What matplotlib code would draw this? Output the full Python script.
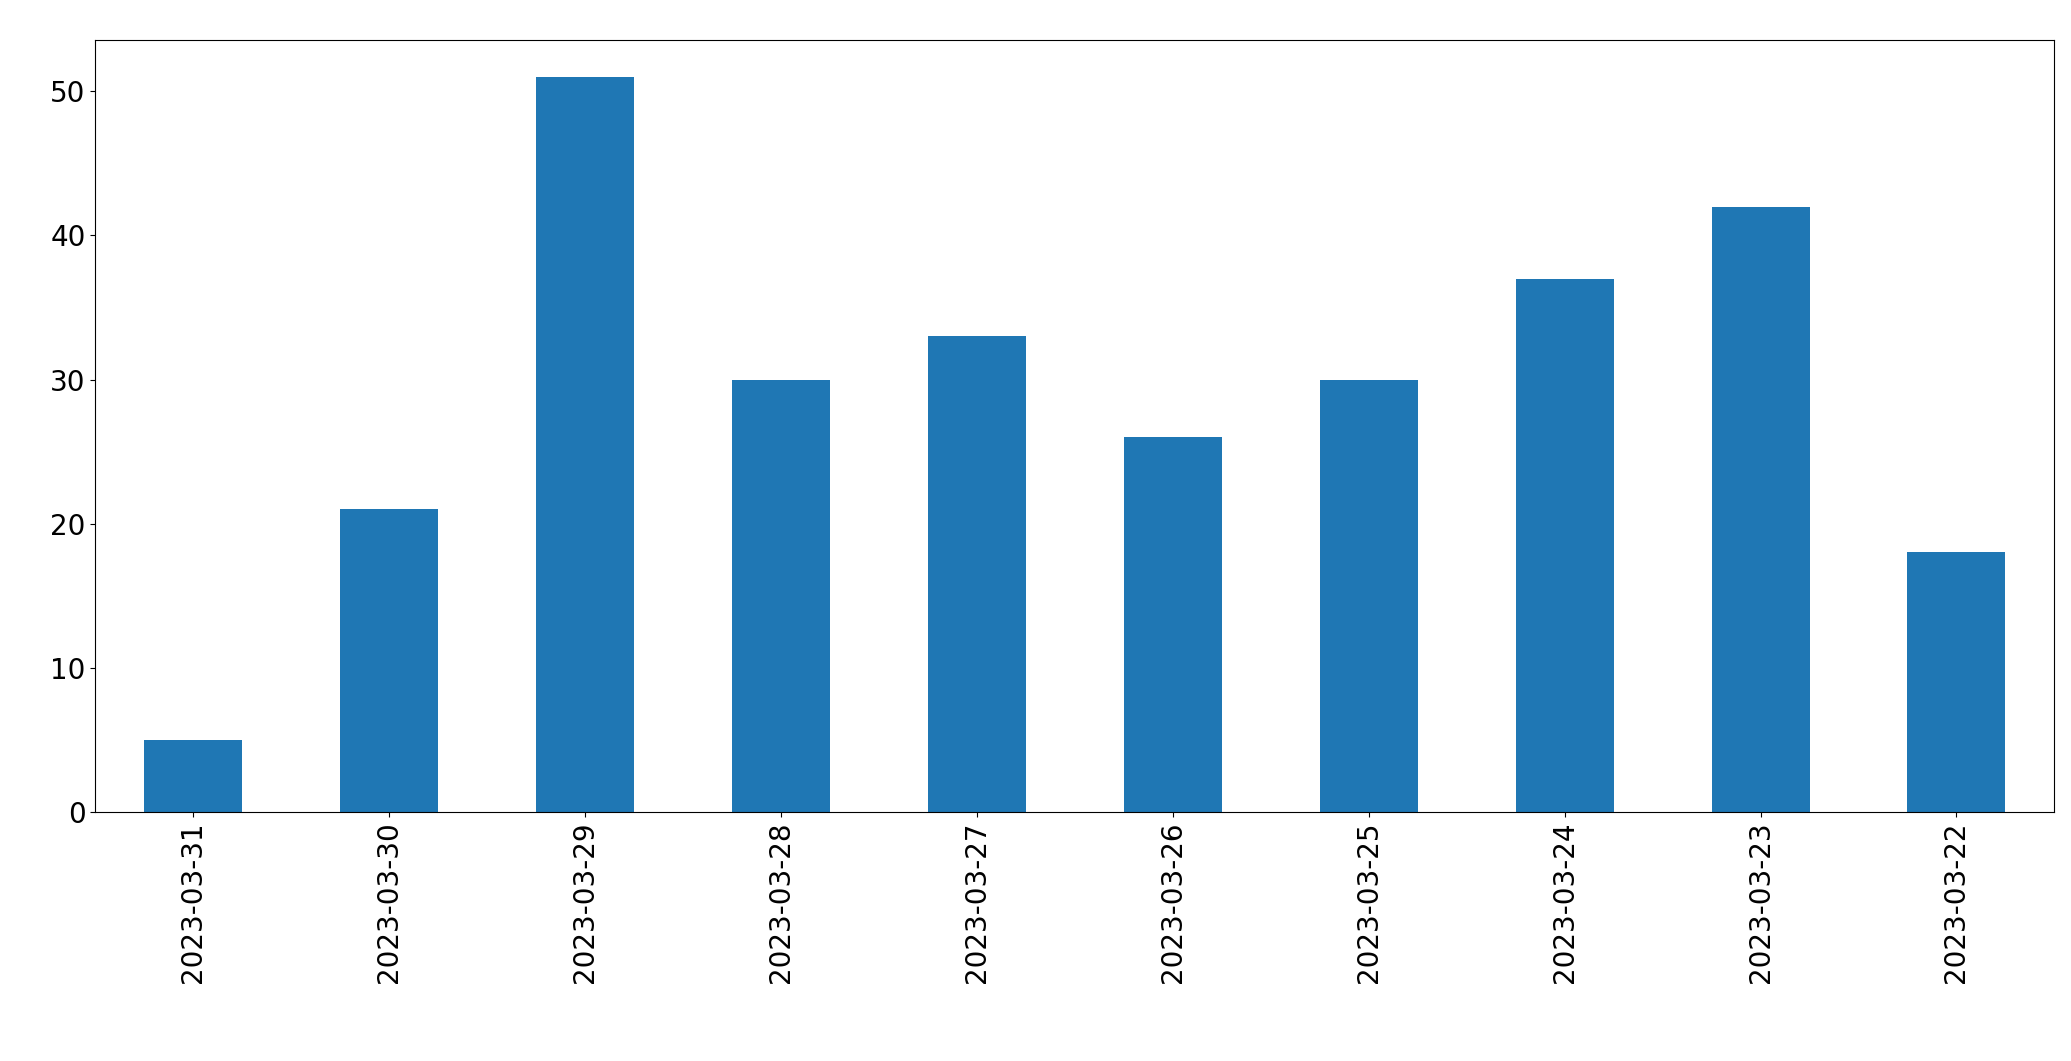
import matplotlib
matplotlib.use("Agg")
import matplotlib.pyplot as plt

dates = ["2023-03-31", "2023-03-30", "2023-03-29", "2023-03-28", "2023-03-27",
         "2023-03-26", "2023-03-25", "2023-03-24", "2023-03-23", "2023-03-22"]
counts = [5, 21, 51, 30, 33, 26, 30, 37, 42, 18]

fig = plt.figure(figsize=(20.71, 10.61), dpi=100)
ax = fig.add_axes([0.046, 0.235, 0.946, 0.727])
x = range(len(dates))
ax.bar(x, counts, width=0.5, color="#1f77b4")
ax.set_xlim(-0.5, len(dates) - 0.5)
ax.set_ylim(0, max(counts) * 1.05)
ax.set_xticks(list(x))
ax.set_xticklabels(dates, rotation=90)
ax.tick_params(labelsize=20)
fig.savefig("out.png", dpi=100)
